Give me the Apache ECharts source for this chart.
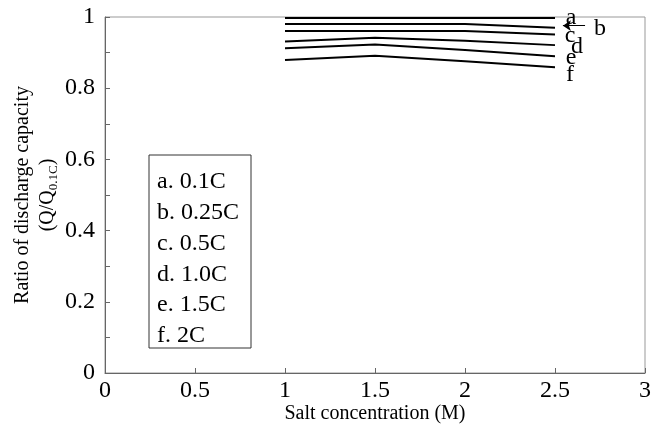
<!DOCTYPE html>
<html>
<head>
<meta charset="UTF-8"/>
<title></title>
<script src="https://cdn.jsdelivr.net/npm/echarts@6/dist/echarts.min.js"></script>
<style>
html, body { margin: 0; padding: 0; background: #fff; }
#placeholder { width: 664px; height: 431px; }
</style>
</head>
<body>
<div id="placeholder"></div>
<script type="text/javascript">
// salt concentration (M)
var conc = [1, 1.5, 2, 2.5];
// ratio Q/Q0.1C for each rate
var rateA = [0.997, 0.997, 0.997, 0.997];
var rateB = [0.980, 0.980, 0.980, 0.970];
var rateC = [0.961, 0.961, 0.961, 0.951];
var rateD = [0.931, 0.942, 0.933, 0.921];
var rateE = [0.912, 0.923, 0.907, 0.890];
var rateF = [0.879, 0.891, 0.876, 0.859];
var names = ['a. 0.1C', 'b. 0.25C', 'c. 0.5C', 'd. 1.0C', 'e. 1.5C', 'f. 2C'];
var letters = ['a', 'b', 'c', 'd', 'e', 'f'];
var allRates = [rateA, rateB, rateC, rateD, rateE, rateF];
// end label nudges
var labelOffsets = [[2.7, 0], [31, 1], [1.7, 1], [8, 2], [2.7, 1.5], [3, 8]];

var font = "'Liberation Serif', 'Times New Roman', serif";

var myChart = echarts.init(document.getElementById('placeholder'));

var series = [];
for (var i = 0; i < allRates.length; i++) {
    var pts = [];
    for (var j = 0; j < conc.length; j++) {
        pts.push([conc[j], allRates[i][j]]);
    }
    var s = {
        name: names[i],
        type: 'line',
        data: pts,
        symbol: 'none',
        lineStyle: { color: '#000', width: 2 },
        itemStyle: { color: '#000' },
        endLabel: {
            show: true,
            formatter: letters[i],
            color: '#000',
            fontFamily: font,
            fontSize: 24,
            offset: labelOffsets[i]
        }
    };
    if (i == 1) {
        // arrow pointing to line b
        s.markLine = {
            silent: true,
            symbol: ['none', 'arrow'],
            symbolSize: 8,
            label: { show: false },
            lineStyle: { color: '#000', width: 1, type: 'solid' },
            data: [[{ coord: [2.667, 0.9756] }, { coord: [2.544, 0.9756] }]]
        };
    }
    series.push(s);
}

var option = {
    animation: false,
    backgroundColor: '#fff',
    grid: {
        left: 105,
        right: 19,
        top: 17,
        bottom: 58,
        outerBoundsMode: 'none',
        show: true,
        borderColor: '#999',
        borderWidth: 1
    },
    legend: {
        data: names,
        orient: 'vertical',
        left: 149,
        top: 155,
        icon: 'none',
        itemWidth: 0,
        itemGap: 6.8,
        padding: [15, 12, 0, 3],
        borderColor: '#333',
        borderWidth: 1,
        selectedMode: false,
        textStyle: { fontFamily: font, fontSize: 24, color: '#000' }
    },
    xAxis: {
        type: 'value',
        min: 0,
        max: 3,
        interval: 0.5,
        name: 'Salt concentration (M)',
        nameLocation: 'middle',
        nameGap: 31,
        nameMoveOverlap: false,
        nameTextStyle: { fontFamily: font, fontSize: 20, color: '#000' },
        axisLine: { lineStyle: { color: '#666' } },
        axisTick: { inside: true, length: 5, lineStyle: { color: '#666' } },
        axisLabel: { fontFamily: font, fontSize: 24, color: '#000', margin: 6 },
        splitLine: { show: false }
    },
    yAxis: {
        type: 'value',
        min: 0,
        max: 1,
        interval: 0.2,
        name: '{t|Ratio of discharge capacity}\n{t|(Q/Q}{s|0.1C}{t|)}',
        nameLocation: 'middle',
        nameGap: 45,
        nameMoveOverlap: false,
        nameTextStyle: {
            fontFamily: font, fontSize: 20, color: '#000', lineHeight: 25,
            rich: {
                t: { fontFamily: font, fontSize: 20, lineHeight: 25, color: '#000' },
                s: { fontFamily: font, fontSize: 13, lineHeight: 25, verticalAlign: 'bottom', color: '#000' }
            }
        },
        axisLine: { show: true, lineStyle: { color: '#666' } },
        axisTick: { show: true, inside: true, length: 5, lineStyle: { color: '#666' } },
        minorTick: { show: true, splitNumber: 2, length: 5, lineStyle: { color: '#666' } },
        axisLabel: { fontFamily: font, fontSize: 24, color: '#000', margin: 10 },
        splitLine: { show: false }
    },
    series: series
};
myChart.setOption(option, true);
</script>
</body>
</html>
